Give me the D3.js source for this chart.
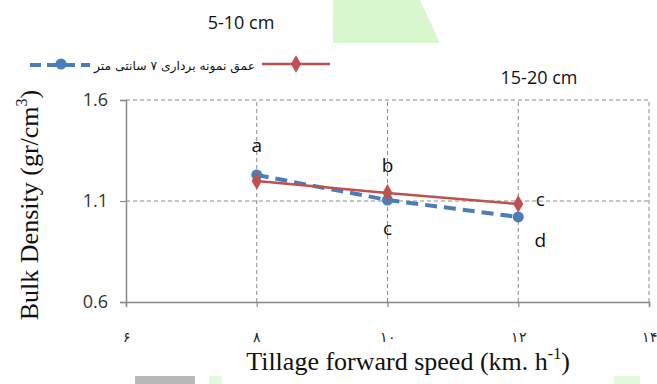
<!DOCTYPE html>
<html>
<head>
<meta charset="utf-8">
<script src="https://cdn.jsdelivr.net/npm/d3@7"></script>
<style>
  body { margin: 0; background: #fff; }
  svg { display: block; }
</style>
</head>
<body>
<div id="chart"></div>
<script>
// speeds (km/h) and bulk density per depth
const speeds = [8, 10, 12];
const shallow = [1.229, 1.105, 1.021];   // 5-10 cm, blue dashed
const deep = [1.199, 1.140, 1.085];      // 15-20 cm, red solid
const shallowLetters = ["a", "c", "d"];
const deepLetters = ["", "b", "c"];
const xTicks = [6, 8, 10, 12, 14];
const yTicks = [0.6, 1.1, 1.6];
const persianDigits = "۰۱۲۳۴۵۶۷۸۹";

const width = 657, height = 384;
const svg = d3.select("#chart").append("svg")
    .attr("width", width)
    .attr("height", height);

// background decorations from the scanned page
svg.append("path")
    .attr("d", "M333,0 L420,0 L440,43 L333,43 Z")
    .attr("fill", "#d9f7cf");
svg.append("rect").attr("x", 135).attr("y", 376).attr("width", 60).attr("height", 8).attr("fill", "#b8b8b8");
svg.append("rect").attr("x", 209).attr("y", 376).attr("width", 13).attr("height", 8).attr("fill", "#e3f9dc");
svg.append("rect").attr("x", 614).attr("y", 376).attr("width", 26).attr("height", 8).attr("fill", "#e3f9dc");

const x = d3.scaleLinear().domain([6, 14]).range([126, 649]);
const y = d3.scaleLinear().domain([0.6, 1.6]).range([302, 100]);

// gridlines
svg.append("g").selectAll("line")
    .data(yTicks.filter(d => d > 0.6))
    .enter().append("line")
    .attr("x1", x(6)).attr("x2", x(14))
    .attr("y1", d => y(d)).attr("y2", d => y(d))
    .attr("stroke", "#8a8a8a").attr("stroke-width", 1)
    .attr("stroke-dasharray", "4,3");
svg.append("g").selectAll("line")
    .data(xTicks.filter(d => d > 6))
    .enter().append("line")
    .attr("x1", d => x(d)).attr("x2", d => x(d))
    .attr("y1", y(0.6)).attr("y2", y(1.6))
    .attr("stroke", "#8a8a8a").attr("stroke-width", 1)
    .attr("stroke-dasharray", "4,3");

// axes
const yAxis = svg.append("g")
    .attr("transform", `translate(${x(6)},0)`)
    .call(d3.axisLeft(y).tickValues(yTicks).tickSize(6).tickPadding(12).tickFormat(d3.format(".1f")));
const xAxis = svg.append("g")
    .attr("transform", `translate(0,${y(0.6)})`)
    .call(d3.axisBottom(x).tickValues(xTicks).tickSize(5).tickPadding(25)
        .tickFormat(d => String(d).split("").map(c => persianDigits[+c]).join("")));

[xAxis, yAxis].forEach(a => {
    a.select(".domain").attr("stroke", "#888").attr("stroke-width", 1.5);
    a.selectAll(".tick line").attr("stroke", "#888").attr("stroke-width", 1.2);
});
yAxis.selectAll("text")
    .attr("font-family", "'Open Sans', sans-serif")
    .attr("font-size", 18)
    .attr("fill", "#333");
xAxis.selectAll("text")
    .attr("font-family", "'DejaVu Serif', serif")
    .attr("font-size", 14)
    .attr("fill", "#222");

// lines
const line = d3.line()
    .x((d, i) => x(speeds[i]))
    .y(d => y(d));

svg.append("path")
    .datum(shallow)
    .attr("d", line)
    .attr("fill", "none")
    .attr("stroke", "#4a7ebb")
    .attr("stroke-width", 4)
    .attr("stroke-dasharray", "12,7");
svg.append("g").selectAll("circle")
    .data(shallow)
    .enter().append("circle")
    .attr("cx", (d, i) => x(speeds[i]))
    .attr("cy", d => y(d))
    .attr("r", 5.5)
    .attr("fill", "#4a7ebb");

svg.append("path")
    .datum(deep)
    .attr("d", line)
    .attr("fill", "none")
    .attr("stroke", "#c0504d")
    .attr("stroke-width", 2.5);
const diamond = d3.symbol().type(d3.symbolDiamond).size(90);
svg.append("g").selectAll("path")
    .data(deep)
    .enter().append("path")
    .attr("d", diamond)
    .attr("transform", (d, i) => `translate(${x(speeds[i])},${y(d)})`)
    .attr("fill", "#c0504d");

// significance letters
const letterFont = "'Open Sans', sans-serif";
const letters = [
    { t: shallowLetters[0], px: x(speeds[0]), py: 152 },
    { t: deepLetters[1], px: x(speeds[1]), py: 172 },
    { t: shallowLetters[1], px: x(speeds[1]), py: 235 },
    { t: deepLetters[2], px: x(speeds[2]) + 22, py: 206 },
    { t: shallowLetters[2], px: x(speeds[2]) + 22, py: 247 }
];
svg.append("g").selectAll("text")
    .data(letters)
    .enter().append("text")
    .attr("x", d => d.px).attr("y", d => d.py)
    .attr("text-anchor", "middle")
    .attr("font-family", letterFont)
    .attr("font-size", 19)
    .attr("fill", "#111")
    .text(d => d.t);

// depth labels
svg.append("text").attr("x", 241).attr("y", 29).attr("text-anchor", "middle")
    .attr("font-family", letterFont).attr("font-size", 18).attr("fill", "#111").text("5-10 cm");
svg.append("text").attr("x", 539).attr("y", 84).attr("text-anchor", "middle")
    .attr("font-family", letterFont).attr("font-size", 18).attr("fill", "#111").text("15-20 cm");

// legend
const lg = svg.append("g");
lg.append("line").attr("x1", 30).attr("x2", 90).attr("y1", 65).attr("y2", 65)
    .attr("stroke", "#4a7ebb").attr("stroke-width", 4).attr("stroke-dasharray", "11,6");
lg.append("circle").attr("cx", 61).attr("cy", 64).attr("r", 5.5).attr("fill", "#4a7ebb");
lg.append("text").attr("x", 255).attr("y", 70).attr("text-anchor", "end")
    .attr("font-family", "'DejaVu Sans', sans-serif").attr("font-size", 12.3).attr("fill", "#111")
    .text("عمق نمونه برداری ۷ سانتی متر");
lg.append("line").attr("x1", 262).attr("x2", 330).attr("y1", 64).attr("y2", 64)
    .attr("stroke", "#c0504d").attr("stroke-width", 2.5);
lg.append("path").attr("d", diamond).attr("transform", "translate(296,64)").attr("fill", "#c0504d");

// axis titles
const yt = svg.append("text")
    .attr("transform", "translate(38,205) rotate(-90)")
    .attr("text-anchor", "middle")
    .attr("font-family", "'Liberation Serif', serif")
    .attr("font-size", 26)
    .attr("fill", "#111");
yt.append("tspan").text("Bulk Density (gr/cm");
yt.append("tspan").attr("dy", -11).attr("font-size", 16).text("3");
yt.append("tspan").attr("dy", 11).text(")");

const xt = svg.append("text")
    .attr("x", 408).attr("y", 370)
    .attr("text-anchor", "middle")
    .attr("font-family", "'Liberation Serif', serif")
    .attr("font-size", 26)
    .attr("fill", "#111");
xt.append("tspan").text("Tillage forward speed (km. h");
xt.append("tspan").attr("dy", -11).attr("font-size", 16).text("-1");
xt.append("tspan").attr("dy", 11).text(")");
</script>
</body>
</html>
